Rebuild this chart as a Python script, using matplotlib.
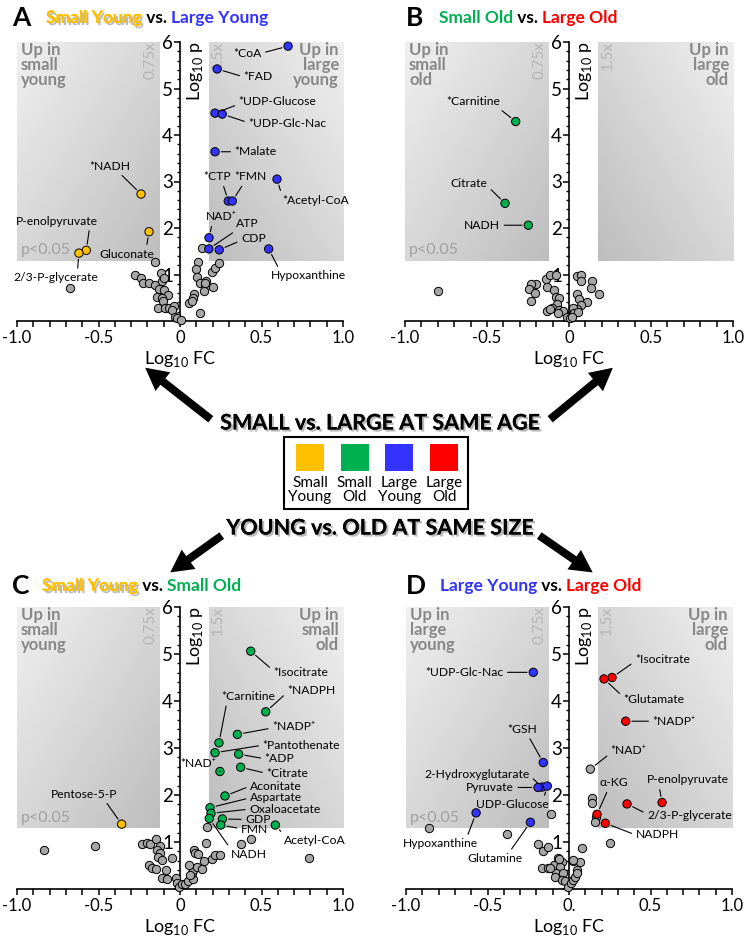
import numpy as np
import matplotlib
matplotlib.use("Agg")
import matplotlib.pyplot as plt
import matplotlib.patheffects as pe
from matplotlib.patches import Rectangle, FancyArrowPatch
from matplotlib.ticker import MultipleLocator

plt.rcParams['font.family'] = ['Lato', 'DejaVu Sans']
plt.rcParams['mathtext.fontset'] = 'custom'
plt.rcParams['mathtext.rm'] = 'Lato'

YEL = '#FFC000'
GRN = '#00B050'
BLU = '#3333FF'
RED = '#FF0000'
GRY = '#A6A6A6'

LOW = np.log10(0.75)
HIGH = np.log10(1.5)
PCUT = -np.log10(0.05)

# ---------------- data: panel A (small young vs large young)
a_gray_fc = [-0.675, -0.153, -0.274, -0.241, -0.229, -0.188, -0.153, -0.118, -0.11, -0.096, -0.131,
             -0.096, -0.075, -0.139, -0.11, -0.102, -0.137, -0.092, -0.066, -0.039, -0.049, -0.033,
             -0.02, 0.006, 0.11, 0.096, 0.106, 0.123, 0.16, 0.155, 0.147, 0.204, 0.196, 0.217, 0.239,
             0.086, 0.078, 0.057, 0.074, 0.123, 0.133, 0.152]
a_gray_p = [0.72, 1.27, 0.99, 0.92, 0.82, 0.82, 0.77, 1.03, 0.86, 0.93, 0.69, 0.67, 0.56, 0.52, 0.49,
            0.43, 0.27, 0.27, 0.29, 0.33, 0.24, 0.09, 0.06, 0.02, 1.26, 1.12, 0.94, 0.81, 0.86, 0.73,
            0.65, 0.74, 1.05, 1.13, 1.24, 0.57, 0.49, 0.39, 0.42, 0.18, 1.58, 0.81]
a_names = ['*CoA', '*FAD', '*UDP-Glucose', '*UDP-Glc-Nac', '*Malate', '*CTP', '*FMN', '*Acetyl-CoA',
           'NAD⁺', 'ATP', 'CDP', 'Hypoxanthine', '*NADH', 'Gluconate', 'P-enolpyruvate', '2/3-P-glycerate']
a_fc = [0.663, 0.228, 0.215, 0.259, 0.215, 0.296, 0.321, 0.595, 0.178, 0.177, 0.241, 0.544,
        -0.239, -0.19, -0.575, -0.62]
a_p = [5.91, 5.42, 4.47, 4.45, 3.64, 2.58, 2.58, 3.05, 1.79, 1.55, 1.53, 1.55, 2.73, 1.92, 1.52, 1.46]
a_col = [BLU] * 12 + [YEL] * 4

# ---------------- data: panel B (small old vs large old)
b_gray_fc = [-0.80, -0.142, -0.114, -0.081, -0.203, -0.233, -0.242, -0.209, -0.232, -0.136, -0.09,
             -0.081, -0.061, -0.075, -0.102, -0.136, -0.116, -0.059, -0.038, -0.065, -0.014, 0.006,
             0.051, 0.075, 0.075, 0.142, 0.134, 0.183, 0.047, 0.063, 0.112, 0.073, 0.051, 0.027, 0.03,
             0.057, 0.016]
b_gray_p = [0.65, 0.9, 0.98, 1.0, 0.8, 0.8, 0.69, 0.6, 0.44, 0.74, 0.67, 0.52, 0.5, 0.36, 0.29, 0.22,
            0.25, 0.24, 0.22, 0.17, 0.09, 0.07, 0.97, 0.99, 0.86, 0.85, 0.72, 0.57, 0.59, 0.47, 0.4,
            0.34, 0.25, 0.27, 0.18, 0.2, 0.09]
b_names = ['*Carnitine', 'Citrate', 'NADH']
b_fc = [-0.325, -0.39, -0.248]
b_p = [4.29, 2.53, 2.06]
b_col = [GRN] * 3

# ---------------- data: panel C (small young vs small old)
c_gray_fc = [-0.832, -0.521, 0.164, 0.374, 0.436, 0.793, -0.235, -0.204, -0.184, -0.147, -0.123,
             -0.139, -0.123, -0.133, -0.112, -0.051, -0.19, -0.174, -0.147, -0.088, -0.109, -0.082,
             -0.026, -0.02, -0.006, 0.01, 0.031, 0.051, 0.078, 0.072, 0.082, 0.102, 0.133, 0.147,
             0.194, 0.215, 0.245, 0.088, 0.092, 0.112, 0.16, 0.061, 0.057]
c_gray_p = [0.83, 0.91, 1.31, 0.95, 1.07, 0.65, 0.95, 0.97, 0.96, 1.06, 0.91, 0.83, 0.76, 0.69, 0.62,
            0.65, 0.51, 0.44, 0.42, 0.4, 0.23, 0.21, 0.23, 0.13, 0.04, 0.1, 0.1, 0.16, 0.21, 0.33,
            0.4, 0.47, 0.42, 0.6, 0.64, 0.72, 0.72, 0.83, 0.76, 0.74, 0.97, 0.3, 0.51]
c_names = ['*Isocitrate', '*NADPH', '*Carnitine', '*NADP⁺', '*Pantothenate', '*ADP', '*Citrate',
           '*NAD⁺', 'Aconitate', 'Aspartate', 'Oxaloacetate', 'GDP', 'FMN', 'NADH', 'Acetyl-CoA',
           'Pentose-5-P']
c_fc = [0.434, 0.526, 0.239, 0.352, 0.215, 0.36, 0.372, 0.245, 0.276, 0.184, 0.19, 0.26, 0.25, 0.18,
        0.585, -0.358]
c_p = [5.06, 3.77, 3.11, 3.29, 2.9, 2.87, 2.59, 2.5, 1.98, 1.73, 1.61, 1.49, 1.36, 1.5, 1.36, 1.38]
c_col = [GRN] * 15 + [YEL]

# ---------------- data: panel D (large young vs large old)
d_gray_fc = [0.139, 0.139, 0.164, 0.162, 0.252, 0.08, -0.112, -0.857, -0.379, -0.188, -0.158,
             -0.127, -0.168, -0.127, -0.092, -0.066, -0.045, -0.055, -0.08, -0.035, -0.086, -0.045,
             -0.025, -0.004, 0.012, 0.026, 0.037, 0.047, 0.023, 0.067, 0.051, -0.117, -0.06, 0.022]
d_gray_p = [1.94, 1.84, 1.53, 1.43, 0.97, 0.88, 1.6, 1.29, 1.18, 0.95, 0.81, 0.9, 0.45, 0.44, 0.51,
            0.67, 0.58, 0.47, 0.33, 0.33, 0.26, 0.19, 0.16, 0.04, 0.12, 0.19, 0.26, 0.4, 0.6, 0.58,
            0.33, 0.44, 0.63, 0.62]
d_names = ['*UDP-Glc-Nac', '*GSH', '2-Hydroxyglutarate', 'Pyruvate', 'UDP-Glucose', 'Hypoxanthine',
           'Glutamine', '*Isocitrate', '*Glutamate', '*NADP⁺', '*NAD⁺', 'α-KG', 'P-enolpyruvate',
           '2/3-P-glycerate', 'NADPH']
d_fc = [-0.219, -0.158, -0.165, -0.19, -0.133, -0.57, -0.237, 0.264, 0.215, 0.348, 0.131, 0.172,
        0.571, 0.356, 0.223]
d_p = [4.61, 2.69, 2.17, 2.16, 2.19, 1.62, 1.42, 4.5, 4.47, 3.57, 2.55, 1.59, 1.84, 1.81, 1.4]
d_col = [BLU] * 7 + [RED] * 3 + [GRY] + [RED] * 4

# legend groups
groups = ['Small\nYoung', 'Small\nOld', 'Large\nYoung', 'Large\nOld']
group_cols = [YEL, GRN, BLU, RED]

# label placement: text x, text y, ha, relpos of leader line on the text box
a_lay = [(0.50, 5.76, 'right', (1, 0.5)), (0.39, 5.25, 'left', (0, 0.5)),
         (0.36, 4.71, 'left', (0, 0.3)), (0.42, 4.24, 'left', (0, 0.6)),
         (0.335, 3.64, 'left', (0, 0.5)), (0.226, 3.1, 'center', (0.7, 0)),
         (0.434, 3.1, 'center', (0.3, 0)), (0.63, 2.6, 'left', (0, 0.7)),
         (0.256, 2.24, 'center', (0.2, 0)), (0.41, 2.09, 'center', (0.1, 0)),
         (0.45, 1.78, 'center', (0, 0.3)), (0.787, 0.97, 'center', (0.12, 1)),
         (-0.43, 3.33, 'center', (0.7, 0)), (-0.325, 1.44, 'center', (0.85, 1)),
         (-0.755, 2.15, 'center', (0.9, 0)), (-0.76, 0.93, 'center', (0.75, 1))]
b_lay = [(-0.585, 4.72, 'center', (0.9, 0.2)), (-0.61, 2.95, 'center', (1, 0.3)),
         (-0.53, 2.06, 'center', (1, 0.5))]
c_lay = [(0.573, 4.6, 'left', (0, 0.7)), (0.658, 4.23, 'left', (0, 0.3)),
         (0.42, 4.1, 'center', (0.1, 0)), (0.566, 3.45, 'left', (0, 0.4)),
         (0.507, 3.06, 'left', (0, 0.5)), (0.52, 2.77, 'left', (0, 0.5)),
         (0.53, 2.46, 'left', (0, 0.5)), (0.11, 2.66, 'center', (1, 0.3)),
         (0.43, 2.19, 'left', (0, 0.5)), (0.43, 1.94, 'left', (0, 0.5)),
         (0.425, 1.7, 'left', (0, 0.5)), (0.4, 1.48, 'left', (0, 0.5)),
         (0.374, 1.26, 'left', (0, 0.6)), (0.42, 0.74, 'center', (0, 1)),
         (0.83, 1.04, 'center', (0, 0.9)), (-0.587, 2.02, 'center', (0.8, 0))]
d_lay = [(-0.403, 4.61, 'right', (1, 0.5)), (-0.29, 3.4, 'center', (0.7, 0)),
         (-0.566, 2.44, 'center', (1, 0.4)), (-0.485, 2.16, 'center', (1, 0.5)),
         (-0.345, 1.79, 'center', (0.92, 1)), (-0.79, 0.96, 'center', (0.85, 1)),
         (-0.454, 0.65, 'center', (0.75, 1)), (0.405, 4.89, 'left', (0, 0.3)),
         (0.333, 4.04, 'left', (0, 0.7)), (0.513, 3.57, 'left', (0, 0.5)),
         (0.256, 2.94, 'left', (0, 0.3)), (0.278, 2.26, 'center', (0.3, 0)),
         (0.728, 2.32, 'center', (0.15, 0)), (0.48, 1.57, 'left', (0, 0.6)),
         (0.409, 1.15, 'left', (0, 0.5))]

W, H = 746, 942
fig = plt.figure(figsize=(W / 100, H / 100), dpi=100)


def shade(ax, x0, x1, flip):
    u = np.linspace(0, 1, 120)
    U, V = np.meshgrid(u, u)
    if flip:
        U = 1 - U
    img = 0.94 - 0.20 * (U + V) / 2
    ax.imshow(img, extent=[x0, x1, PCUT, 6.06], origin='upper', cmap='gray', vmin=0, vmax=1,
              aspect='auto', zorder=0, interpolation='bilinear')


def panel(rect, gray_fc, gray_p, names, fc, p, cols, lay, up_left, up_right, zero='0'):
    ax = fig.add_axes(rect)
    shade(ax, -1, LOW, False)
    shade(ax, HIGH, 1, True)
    ax.set_xlim(-1, 1)
    ax.set_ylim(0, 6)
    for s in ['top', 'right']:
        ax.spines[s].set_visible(False)
    ax.spines['left'].set_position(('data', 0))
    ax.spines['bottom'].set_position(('data', 0))
    for s in ['left', 'bottom']:
        ax.spines[s].set_linewidth(1.2)
        ax.spines[s].set_zorder(2)
    ax.set_yticks(range(7))
    ax.set_yticklabels([''] + [str(i) for i in range(1, 7)])
    ax.yaxis.set_minor_locator(MultipleLocator(0.2))
    ax.set_xticks([-1, -0.5, 0, 0.5, 1])
    ax.set_xticklabels(['-1.0', '-0.5', zero, '0.5', '1.0'])
    ax.xaxis.set_minor_locator(MultipleLocator(0.1))
    ax.tick_params(axis='y', which='major', length=4, width=1.1, labelsize=13.5, pad=1)
    ax.tick_params(axis='y', which='minor', length=2.5, width=1.0)
    ax.tick_params(axis='x', which='both', length=4.5, width=1.1, labelsize=12, pad=2)
    ax.set_xlabel(r'Log$_{\mathregular{10}}$ FC', fontsize=13, labelpad=2)
    ax.text(0.03, 6.02, r'Log$_{\mathregular{10}}$ p', rotation=90, ha='left', va='top', fontsize=13)

    ax.text(-0.975, 6.0, up_left, ha='left', va='top', fontsize=12, fontweight='bold',
            color='#888888', linespacing=0.92)
    ax.text(0.975, 6.0, up_right, ha='right', va='top', fontsize=12, fontweight='bold',
            color='#888888', linespacing=0.92, multialignment='right')
    ax.text(LOW - 0.015, 6.02, '0.75x', rotation=90, ha='right', va='top', fontsize=11, color='#b4b4b4')
    ax.text(HIGH + 0.015, 6.02, '1.5x', rotation=90, ha='left', va='top', fontsize=11, color='#b4b4b4')
    ax.text(-0.975, PCUT + 0.07, 'p<0.05', ha='left', va='bottom', fontsize=11.5, color='#a0a0a0')

    ax.scatter(gray_fc, gray_p, s=36, c=GRY, edgecolors='black', linewidths=0.7, zorder=3,
               clip_on=False)
    ax.scatter(fc, p, s=36, c=cols, edgecolors='black', linewidths=0.7, zorder=4, clip_on=False)
    for name, x, y, (tx, ty, ha, rp) in zip(names, fc, p, lay):
        ax.annotate(name, xy=(x, y), xytext=(tx, ty), ha=ha, va='center', fontsize=8.7,
                    arrowprops=dict(arrowstyle='-', lw=0.8, color='black', relpos=rp,
                                    shrinkA=1, shrinkB=4.5), zorder=5)
    return ax


def rect_for(left_px, right_px, top_px, bottom_px):
    return [left_px / W, 1 - bottom_px / H, (right_px - left_px) / W, (bottom_px - top_px) / H]


panel(rect_for(17, 343, 42, 321), a_gray_fc, a_gray_p, a_names, a_fc, a_p, a_col, a_lay,
      'Up in\nsmall\nyoung', 'Up in\nlarge\nyoung')
panel(rect_for(405, 733, 42, 321), b_gray_fc, b_gray_p, b_names, b_fc, b_p, b_col, b_lay,
      'Up in\nsmall\nold', 'Up in\nlarge\nold')
panel(rect_for(17, 343, 607, 889), c_gray_fc, c_gray_p, c_names, c_fc, c_p, c_col, c_lay,
      'Up in\nsmall\nyoung', 'Up in\nsmall\nold')
panel(rect_for(406, 732, 607, 889), d_gray_fc, d_gray_p, d_names, d_fc, d_p, d_col, d_lay,
      'Up in\nlarge\nyoung', 'Up in\nlarge\nold', zero='0.')

# overlay in pixel coordinates for titles, headlines, legend and arrows
ov = fig.add_axes([0, 0, 1, 1], zorder=10)
ov.set_xlim(0, W)
ov.set_ylim(H, 0)
ov.axis('off')

shadow = [pe.withSimplePatchShadow(offset=(1.5, -1.5), shadow_rgbFace='#777777', alpha=0.5),
          pe.Normal()]


def title(x_letter, x_text, y, letter, parts):
    ov.text(x_letter, y, letter, fontsize=19, fontweight='bold', va='center', ha='left')
    prev = None
    for txt, col, shad in parts:
        kw = dict(fontsize=12.5, fontweight='bold', color=col, va='center', ha='left')
        if shad:
            kw['path_effects'] = shadow
        if prev is None:
            prev = ov.text(x_text, y, txt, **kw)
        else:
            prev = ov.annotate(txt, xy=(1, 0.5), xycoords=prev, **kw)


title(12, 46, 18, 'A', [('Small Young', YEL, True), (' vs. ', 'black', False), ('Large Young', BLU, False)])
title(406, 439, 18, 'B', [('Small Old', GRN, False), (' vs. ', 'black', False), ('Large Old', RED, False)])
title(12, 42, 586, 'C', [('Small Young', YEL, True), (' vs. ', 'black', False), ('Small Old', GRN, False)])
title(406, 440, 586, 'D', [('Large Young', BLU, False), (' vs. ', 'black', False), ('Large Old', RED, False)])

ov.text(380, 423, 'SMALL vs. LARGE AT SAME AGE', fontsize=15.5, fontweight='bold', ha='center',
        va='center', path_effects=shadow)
ov.text(380, 528, 'YOUNG vs. OLD AT SAME SIZE', fontsize=15.5, fontweight='bold', ha='center',
        va='center', path_effects=shadow)

ov.add_patch(Rectangle((284, 437), 184, 72, fill=False, lw=1.5, ec='black'))
for i, (g, c) in enumerate(zip(groups, group_cols)):
    cx = 310 + i * 44.7
    ov.add_patch(Rectangle((cx - 14, 444), 28, 27, fc=c, ec='none'))
    ov.text(cx, 490, g, ha='center', va='center', fontsize=11, linespacing=1.0)

for (x0, y0), (x1, y1) in [((213, 421), (143, 366)), ((548, 421), (615, 366)),
                           ((224, 534), (168, 574)), ((537, 534), (595, 574))]:
    ov.add_patch(FancyArrowPatch((x0, y0), (x1, y1),
                                 arrowstyle='simple,head_length=0.9,head_width=0.95,tail_width=0.32',
                                 mutation_scale=18, fc='black', ec='black', lw=0))

fig.savefig('out.png', dpi=100)
